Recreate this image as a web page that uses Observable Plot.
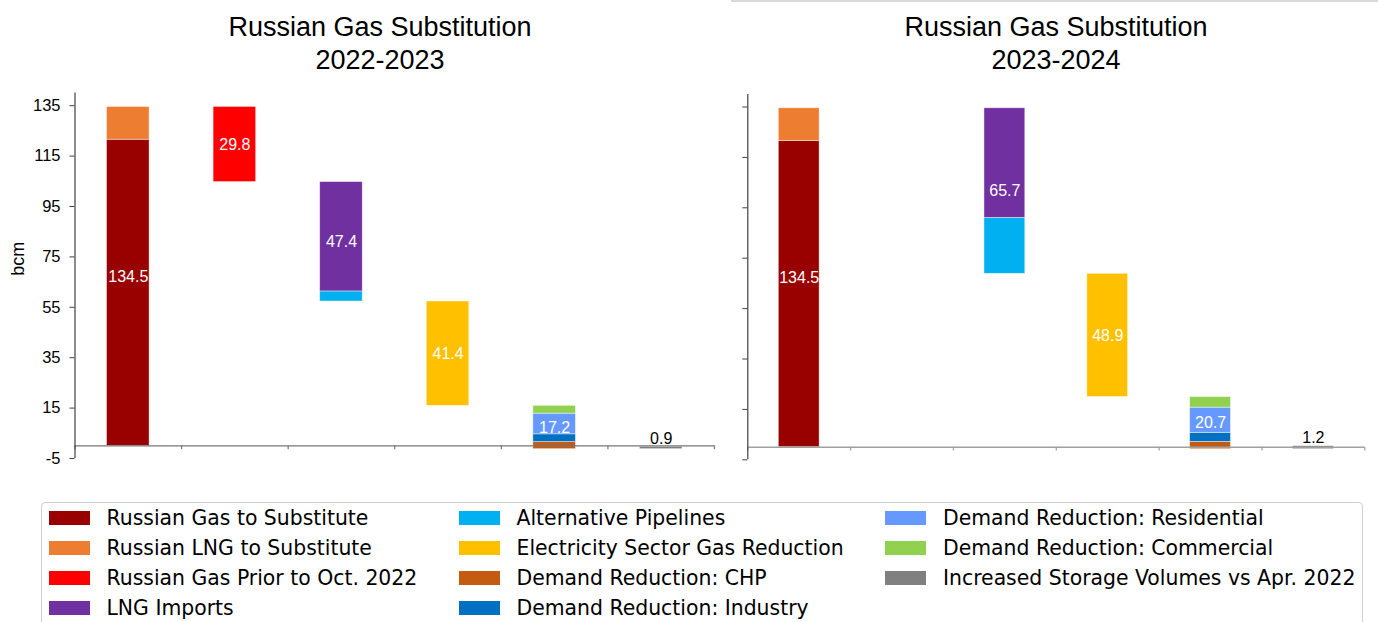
<!DOCTYPE html>
<html>
<head>
<meta charset="utf-8">
<script src="https://cdn.jsdelivr.net/npm/d3@7"></script>
<script src="https://cdn.jsdelivr.net/npm/@observablehq/plot@0.6"></script>
<style>
  html, body { margin: 0; padding: 0; background: white; }
  #root { position: relative; width: 1378px; height: 622px; overflow: hidden; background: white; }
  .title { position: absolute; font-family: "Liberation Sans", Arial, sans-serif; font-size: 27px; line-height: 33px; text-align: center; color: #000; white-space: nowrap; }
  .panel { position: absolute; top: 0; }
  .panel svg { overflow: visible; }
  #legend { position: absolute; left: 41px; top: 502px; width: 1322px; height: 140px; border: 1.5px solid #d0d0d0; border-radius: 4px; box-sizing: border-box; }
  .lg-item { position: absolute; height: 30px; line-height: 30px; font-family: "DejaVu Sans", sans-serif; font-size: 20.4px; color: #000; white-space: nowrap; }
  .lg-sw { position: absolute; width: 41px; height: 14px; top: 8px; left: 0; }
  .lg-tx { position: absolute; left: 58px; top: 0; }
  #topline { position: absolute; left: 731px; top: 0; width: 647px; height: 1.5px; background: #d9d9d9; }
</style>
</head>
<body>
<div id="root">
  <div id="topline"></div>
  <div class="title" style="left:0; width:760px; top:10.5px;">Russian Gas Substitution<br>2022-2023</div>
  <div class="title" style="left:756px; width:600px; top:10.5px;">Russian Gas Substitution<br>2023-2024</div>
  <div class="panel" id="p1" style="left:0;"></div>
  <div class="panel" id="p2" style="left:720px;"></div>
  <div id="legend"></div>
</div>
<script>
// ---- data ----
const steps = ["Russian Gas to Substitute", "Russian Gas Prior to Oct. 2022", "New Supply", "Electricity Sector", "Demand Reduction", "Storage"];
const stepDirection = ["up", "down", "down", "down", "down", "up"];
const seriesNames = [
  "Russian Gas to Substitute", "Russian LNG to Substitute", "Russian Gas Prior to Oct. 2022",
  "LNG Imports", "Alternative Pipelines", "Electricity Sector Gas Reduction",
  "Demand Reduction: CHP", "Demand Reduction: Industry", "Demand Reduction: Residential",
  "Demand Reduction: Commercial", "Increased Storage Volumes vs Apr. 2022"
];
const seriesColors = ["#990000", "#ED7D31", "#FF0000", "#7030A0", "#00B0F0", "#FFC000", "#C55A11", "#0070C0", "#6699FF", "#92D050", "#808080"];
const seriesStep = [0, 0, 1, 2, 2, 3, 4, 4, 4, 4, 5];
// bottom-to-top stacking order within each step
const stackOrder = [0, 1, 2, 4, 3, 5, 6, 7, 8, 9, 10];
const values2022 = [121.5, 13.0, 29.8, 43.4, 4.0, 41.4, 2.8, 3.1, 8.2, 3.1, 0.9];
const values2023 = [121.5, 13.0, 0.0, 43.5, 22.2, 48.9, 2.9, 3.6, 10.0, 4.2, 1.2];
const yTicks = [-5, 15, 35, 55, 75, 95, 115, 135];
const yDomain = [-5, 140];
const yLabel = "bcm";
const legendColumns = [[0, 1, 2, 3], [4, 5, 6, 7], [8, 9, 10]];

// ---- waterfall build ----
function build(values) {
  const totals = steps.map((_, s) => d3.sum(seriesStep.map((st, i) => st === s ? values[i] : 0)));
  const rows = [], labels = [];
  let level = 0;
  steps.forEach((name, s) => {
    const total = totals[s];
    const base = stepDirection[s] === "up" ? level : level - total;
    let cur = base;
    stackOrder.filter(i => seriesStep[i] === s).forEach(i => {
      if (values[i] > 0) rows.push({step: s, series: seriesNames[i], color: seriesColors[i], y1: cur, y2: cur + values[i]});
      cur += values[i];
    });
    if (total > 0) labels.push({step: s, total, mid: base + total / 2, top: base + total, last: s === steps.length - 1});
    level = stepDirection[s] === "up" ? level + total : level - total;
  });
  return {rows, labels};
}

const edges = d3.range(steps.length + 1);
const font = "'Liberation Sans', Arial, sans-serif";

function panel(values, opts) {
  const {rows, labels} = build(values);
  const marks = [
    Plot.rect(rows, {x1: d => d.step, x2: d => d.step + 1, y1: "y1", y2: "y2", fill: "color",
      insetLeft: opts.inset, insetRight: opts.inset, stroke: "white", strokeOpacity: 0.55, strokeWidth: 0.8}),
    Plot.ruleY([0], {stroke: opts.xAxisColor, strokeWidth: 1.4}),
    Plot.ruleX(edges, {x: d => d, y1: 0, y2: -1.5, stroke: opts.xAxisColor, strokeWidth: 1.2}),
    Plot.ruleX([0], {stroke: "#404040", strokeWidth: 1.2}),
    Plot.axisY({ticks: yTicks, tickSize: 5, stroke: "#404040", tickFormat: () => "", label: null}),
    Plot.text(labels.filter(d => !d.last), {x: d => d.step + 0.5, y: "mid", text: d => d.total.toFixed(1), fill: "white", fontSize: 16, fontFamily: font}),
    Plot.text(labels.filter(d => d.last), {x: d => d.step + 0.5, y: "top", text: d => d.total.toFixed(1), fill: "black", fontSize: 16, fontFamily: font, dy: -8})
  ];
  if (opts.showLabels) {
    marks.push(
      Plot.text(yTicks, {y: d => d, text: d => String(d), frameAnchor: "left", textAnchor: "end", dx: -14.5, fontSize: 16.5, fontFamily: font, fill: "#000"}),
      Plot.text([yLabel], {text: d => d, frameAnchor: "left", rotate: -90, dx: -56.5, fontSize: 18, fontFamily: font, fill: "#000"})
    );
  }
  return Plot.plot({
    width: opts.width, height: 480,
    marginLeft: opts.marginLeft, marginRight: opts.marginRight,
    marginTop: opts.marginTop, marginBottom: opts.marginBottom,
    style: {background: "transparent", fontFamily: font, fontSize: "16px", overflow: "visible"},
    x: {domain: [0, steps.length], axis: null},
    y: {domain: yDomain, axis: null},
    marks
  });
}

document.getElementById("p1").appendChild(panel(values2022, {
  width: 720, marginLeft: 74.5, marginRight: 6, marginTop: 92.6, marginBottom: 22, inset: 32,
  xAxisColor: "#777777", showLabels: true
}));
document.getElementById("p2").appendChild(panel(values2023, {
  width: 658, marginLeft: 27.3, marginRight: 13.7, marginTop: 93.9, marginBottom: 20.7, inset: 31,
  xAxisColor: "#a0a0a0", showLabels: false
}));

// ---- legend ----
const lg = document.getElementById("legend");
const colX = [49, 459, 885.5];
legendColumns.forEach((col, c) => {
  col.forEach((i, r) => {
    const item = document.createElement("div");
    item.className = "lg-item";
    item.style.left = (colX[c] - 41 - 1.5) + "px";
    item.style.top = (503 + 30 * r - 502 - 1.5) + "px";
    const sw = document.createElement("div");
    sw.className = "lg-sw";
    sw.style.background = seriesColors[i];
    const tx = document.createElement("div");
    tx.className = "lg-tx";
    tx.textContent = seriesNames[i];
    item.appendChild(sw); item.appendChild(tx);
    lg.appendChild(item);
  });
});
</script>
</body>
</html>
